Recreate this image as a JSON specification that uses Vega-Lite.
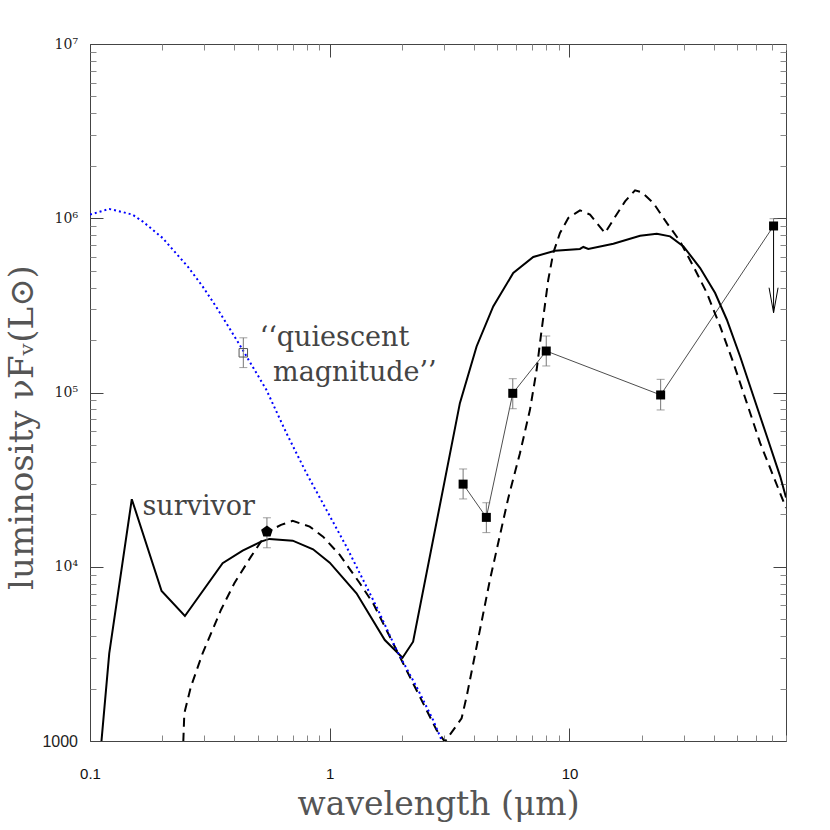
{
  "$schema": "https://vega.github.io/schema/vega-lite/v6.json",
  "width": 696,
  "height": 697,
  "autosize": "none",
  "padding": {"left": 90, "top": 44, "right": 44, "bottom": 89},
  "background": "white",
  "config": {"view": {"stroke": "#444", "strokeWidth": 1}},
  "datasets": {
    "solid": [
      {"wl": 0.1115, "lum": 980}, {"wl": 0.1203, "lum": 3184}, {"wl": 0.1494, "lum": 24420},
      {"wl": 0.1989, "lum": 7260}, {"wl": 0.2488, "lum": 5214}, {"wl": 0.3574, "lum": 10470},
      {"wl": 0.4331, "lum": 12375}, {"wl": 0.5168, "lum": 13935}, {"wl": 0.5602, "lum": 14450},
      {"wl": 0.7007, "lum": 14120}, {"wl": 0.852, "lum": 12600}, {"wl": 1.0, "lum": 10560},
      {"wl": 1.293, "lum": 7045}, {"wl": 1.697, "lum": 3798}, {"wl": 2.012, "lum": 3006},
      {"wl": 2.227, "lum": 3714}, {"wl": 3.021, "lum": 31520}, {"wl": 3.49, "lum": 86900},
      {"wl": 4.097, "lum": 183700}, {"wl": 4.807, "lum": 311900}, {"wl": 5.826, "lum": 485000},
      {"wl": 7.062, "lum": 599500}, {"wl": 8.7, "lum": 651500}, {"wl": 11.06, "lum": 666400},
      {"wl": 11.42, "lum": 684300}, {"wl": 11.98, "lum": 666400}, {"wl": 15.24, "lum": 714600},
      {"wl": 19.7, "lum": 794300}, {"wl": 23.13, "lum": 815700}, {"wl": 26.28, "lum": 787000},
      {"wl": 29.88, "lum": 689600}, {"wl": 35.07, "lum": 518000}, {"wl": 40.5, "lum": 372400},
      {"wl": 45.33, "lum": 261600}, {"wl": 51.5, "lum": 161000}, {"wl": 58.55, "lum": 94840},
      {"wl": 66.6, "lum": 55880}, {"wl": 75.7, "lum": 32920}, {"wl": 80, "lum": 25000}
    ],
    "dashed": [
      {"wl": 0.245, "lum": 990}, {"wl": 0.2474, "lum": 1440}, {"wl": 0.2635, "lum": 2048},
      {"wl": 0.2949, "lum": 3184}, {"wl": 0.3516, "lum": 5649}, {"wl": 0.4, "lum": 8040},
      {"wl": 0.4693, "lum": 11430}, {"wl": 0.5511, "lum": 15910}, {"wl": 0.6262, "lum": 17380},
      {"wl": 0.7007, "lum": 18330}, {"wl": 0.8251, "lum": 16995}, {"wl": 0.9376, "lum": 14890},
      {"wl": 1.101, "lum": 11690}, {"wl": 1.335, "lum": 8040}, {"wl": 1.517, "lum": 6170},
      {"wl": 1.781, "lum": 3967}, {"wl": 1.96, "lum": 3045}, {"wl": 2.227, "lum": 2142},
      {"wl": 2.534, "lum": 1505}, {"wl": 2.79, "lum": 1155}, {"wl": 3.021, "lum": 990},
      {"wl": 3.548, "lum": 1349}, {"wl": 3.722, "lum": 1794}, {"wl": 4.097, "lum": 3475},
      {"wl": 4.657, "lum": 8400}, {"wl": 5.553, "lum": 24750}, {"wl": 6.215, "lum": 44870},
      {"wl": 6.841, "lum": 79550}, {"wl": 7.295, "lum": 135000}, {"wl": 7.655, "lum": 229200},
      {"wl": 8.156, "lum": 444000}, {"wl": 8.557, "lum": 632000}, {"wl": 9.127, "lum": 823000},
      {"wl": 9.886, "lum": 1004000}, {"wl": 11.06, "lum": 1110000}, {"wl": 12.18, "lum": 1049000},
      {"wl": 12.99, "lum": 940000}, {"wl": 14.07, "lum": 823000}, {"wl": 15.24, "lum": 982000},
      {"wl": 17.05, "lum": 1250000}, {"wl": 18.77, "lum": 1447000}, {"wl": 20.02, "lum": 1409000},
      {"wl": 22.38, "lum": 1224000}, {"wl": 25.46, "lum": 940000}, {"wl": 28.93, "lum": 737000},
      {"wl": 32.88, "lum": 529000}, {"wl": 37.41, "lum": 372400}, {"wl": 42.5, "lum": 239400},
      {"wl": 48.31, "lum": 147500}, {"wl": 54.95, "lum": 86900}, {"wl": 62.44, "lum": 51210},
      {"wl": 70.96, "lum": 32920}, {"wl": 80, "lum": 21760}
    ],
    "dotted": [
      {"wl": 0.1, "lum": 1049000}, {"wl": 0.1075, "lum": 1081000}, {"wl": 0.1203, "lum": 1131000},
      {"wl": 0.1345, "lum": 1091000}, {"wl": 0.1504, "lum": 1049000}, {"wl": 0.1656, "lum": 960000},
      {"wl": 0.1824, "lum": 860000}, {"wl": 0.2008, "lum": 770600}, {"wl": 0.2247, "lum": 645400},
      {"wl": 0.2554, "lum": 529000}, {"wl": 0.2949, "lum": 406200}, {"wl": 0.3352, "lum": 311900},
      {"wl": 0.3813, "lum": 234400}, {"wl": 0.4331, "lum": 175900}, {"wl": 0.5441, "lum": 103600},
      {"wl": 0.6596, "lum": 58450}, {"wl": 0.7995, "lum": 34440}, {"wl": 0.9687, "lum": 21200},
      {"wl": 1.174, "lum": 13040}, {"wl": 1.567, "lum": 5900}, {"wl": 1.899, "lum": 3328},
      {"wl": 2.301, "lum": 2048}, {"wl": 2.7, "lum": 1318}, {"wl": 2.927, "lum": 1012}
    ],
    "phot": [
      {"wl": 3.6, "lum": 29800, "lo": 24500, "hi": 36400, "kind": "obs"},
      {"wl": 4.5, "lum": 19200, "lo": 15700, "hi": 23300, "kind": "obs"},
      {"wl": 5.8, "lum": 98900, "lo": 80700, "hi": 120000, "kind": "obs"},
      {"wl": 8.0, "lum": 173000, "lo": 142000, "hi": 211000, "kind": "obs"},
      {"wl": 24, "lum": 96800, "lo": 79400, "hi": 119000, "kind": "obs"},
      {"wl": 71, "lum": 903000, "lo": null, "hi": 994000, "kind": "obs"},
      {"wl": 0.436, "lum": 169000, "lo": 139000, "hi": 206000, "kind": "quiescent"},
      {"wl": 0.547, "lum": 15900, "lo": 12850, "hi": 19100, "kind": "survivor"}
    ],
    "limit": [
      {"wl": 71, "lum": 903000, "tip": 287000}
    ],
    "notes": [
      {"wl": 0.51, "lum": 183700, "text": "‘‘quiescent"},
      {"wl": 0.58, "lum": 115700, "text": "magnitude’’"},
      {"wl": 0.1656, "lum": 19840, "text": "survivor"}
    ]
  },
  "encoding": {
    "x": {"field": "wl", "type": "quantitative", "scale": {"type": "log", "domain": [0.1, 80], "nice": false}, "axis": null},
    "y": {"field": "lum", "type": "quantitative", "scale": {"type": "log", "domain": [1000, 10000000], "nice": false}, "axis": null}
  },
  "layer": [
    {
      "data": {"name": "solid"},
      "mark": {"type": "line", "color": "black", "strokeWidth": 2, "clip": true},
      "encoding": {
        "x": {"field": "wl", "type": "quantitative", "scale": {"type": "log", "domain": [0.1, 80], "nice": false},
          "axis": {
            "orient": "bottom", "title": "wavelength (μm)", "titleFont": "DejaVu Serif", "titleFontSize": 33,
            "titleFontWeight": "normal", "titleColor": "#555", "titleY": 73, "titleBaseline": "alphabetic",
            "labelExpr": "abs(datum.value-0.1)<0.001 ? '0.1' : abs(datum.value-1)<0.001 ? '1' : abs(datum.value-10)<0.01 ? '10' : ''",
            "labelFont": "Liberation Sans", "labelFontSize": 15, "labelColor": "#111", "labelPadding": 38,
            "labelBaseline": "top", "labelFlush": false, "labelOverlap": false, "domain": false, "grid": false,
            "tickSize": {"condition": {"test": "abs(log(datum.value)/LN10 - round(log(datum.value)/LN10)) < 0.001", "value": -13}, "value": -6},
            "tickColor": {"condition": {"test": "abs(log(datum.value)/LN10 - round(log(datum.value)/LN10)) < 0.001", "value": "#444"}, "value": "#888"}
          }},
        "y": {"field": "lum", "type": "quantitative", "scale": {"type": "log", "domain": [1000, 10000000], "nice": false},
          "axis": {
            "orient": "left", "title": "luminosity νFᵥ(L⊙)", "titleFont": "DejaVu Serif", "titleFontSize": 34,
            "titleFontWeight": "normal", "titleColor": "#555", "titleX": -58, "titleY": 383, "titleAlign": "center",
            "titleBaseline": "alphabetic", "titleAngle": 270,
            "labelExpr": "abs(datum.value-1000)<1 ? '1000' : abs(datum.value-10000)<1 ? '10⁴' : abs(datum.value-100000)<1 ? '10⁵' : abs(datum.value-1000000)<1 ? '10⁶' : abs(datum.value-10000000)<1 ? '10⁷' : ''",
            "labelFont": {"condition": {"test": "datum.value < 5000", "value": "Liberation Sans"}, "value": "DejaVu Serif"},
            "labelFontSize": {"condition": {"test": "datum.value < 5000", "value": 16}, "value": 14},
            "labelColor": "#222", "labelPadding": 25.5, "labelBaseline": "middle", "labelFlush": false,
            "labelOverlap": false, "domain": false, "grid": false,
            "tickSize": {"condition": {"test": "abs(log(datum.value)/LN10 - round(log(datum.value)/LN10)) < 0.001", "value": -13}, "value": -6},
            "tickColor": {"condition": {"test": "abs(log(datum.value)/LN10 - round(log(datum.value)/LN10)) < 0.001", "value": "#444"}, "value": "#888"}
          }}
      }
    },
    {
      "data": {"name": "dashed"},
      "mark": {"type": "line", "color": "black", "strokeWidth": 2, "strokeDash": [9, 6], "clip": true},
      "encoding": {
        "x": {"field": "wl", "type": "quantitative", "scale": {"type": "log", "domain": [0.1, 80], "nice": false},
          "axis": {
            "orient": "top", "title": null, "labels": false, "domain": false, "grid": false,
            "tickSize": {"condition": {"test": "abs(log(datum.value)/LN10 - round(log(datum.value)/LN10)) < 0.001", "value": -13}, "value": -6},
            "tickColor": {"condition": {"test": "abs(log(datum.value)/LN10 - round(log(datum.value)/LN10)) < 0.001", "value": "#444"}, "value": "#888"}
          }},
        "y": {"field": "lum", "type": "quantitative", "scale": {"type": "log", "domain": [1000, 10000000], "nice": false},
          "axis": {
            "orient": "right", "title": null, "labels": false, "domain": false, "grid": false,
            "tickSize": {"condition": {"test": "abs(log(datum.value)/LN10 - round(log(datum.value)/LN10)) < 0.001", "value": -13}, "value": -6},
            "tickColor": {"condition": {"test": "abs(log(datum.value)/LN10 - round(log(datum.value)/LN10)) < 0.001", "value": "#444"}, "value": "#888"}
          }}
      }
    },
    {
      "data": {"name": "dotted"},
      "mark": {"type": "line", "color": "#0000ff", "strokeWidth": 2, "strokeDash": [2, 3], "clip": true}
    },
    {
      "data": {"name": "phot"},
      "transform": [{"filter": "datum.kind == 'obs'"}],
      "mark": {"type": "line", "color": "black", "strokeWidth": 0.7}
    },
    {
      "data": {"name": "phot"},
      "mark": {"type": "rule", "color": "#777", "strokeWidth": 1},
      "encoding": {"y2": {"field": "hi"}}
    },
    {
      "data": {"name": "phot"},
      "transform": [{"filter": "isValid(datum.lo)"}],
      "mark": {"type": "rule", "color": "#777", "strokeWidth": 1},
      "encoding": {"y2": {"field": "lo"}}
    },
    {
      "data": {"name": "phot"},
      "mark": {"type": "tick", "orient": "horizontal", "color": "#777", "size": 8, "thickness": 1},
      "encoding": {"y": {"field": "hi", "type": "quantitative", "scale": {"type": "log", "domain": [1000, 10000000], "nice": false}, "axis": null}}
    },
    {
      "data": {"name": "phot"},
      "transform": [{"filter": "isValid(datum.lo)"}],
      "mark": {"type": "tick", "orient": "horizontal", "color": "#777", "size": 8, "thickness": 1},
      "encoding": {"y": {"field": "lo", "type": "quantitative", "scale": {"type": "log", "domain": [1000, 10000000], "nice": false}, "axis": null}}
    },
    {
      "data": {"name": "limit"},
      "mark": {"type": "rule", "color": "black", "strokeWidth": 1},
      "encoding": {"y2": {"field": "tip"}}
    },
    {
      "data": {"name": "limit"},
      "mark": {"type": "point", "shape": "M-0.72,-4L0,0L0.72,-4", "filled": false, "stroke": "black", "strokeWidth": 1, "size": 156, "opacity": 1},
      "encoding": {"y": {"field": "tip", "type": "quantitative", "scale": {"type": "log", "domain": [1000, 10000000], "nice": false}, "axis": null}}
    },
    {
      "data": {"name": "phot"},
      "transform": [{"filter": "datum.kind == 'obs'"}],
      "mark": {"type": "point", "shape": "square", "filled": true, "color": "black", "size": 81, "opacity": 1}
    },
    {
      "data": {"name": "phot"},
      "transform": [{"filter": "datum.kind == 'quiescent'"}],
      "mark": {"type": "point", "shape": "square", "filled": false, "stroke": "#555", "strokeWidth": 1, "size": 72, "opacity": 1}
    },
    {
      "data": {"name": "phot"},
      "transform": [{"filter": "datum.kind == 'survivor'"}],
      "mark": {"type": "point", "shape": "M0,-1L0.951,-0.309L0.588,0.809L-0.588,0.809L-0.951,-0.309Z", "filled": true, "color": "black", "size": 150, "opacity": 1}
    },
    {
      "data": {"name": "notes"},
      "mark": {"type": "text", "align": "left", "baseline": "alphabetic", "font": "DejaVu Serif", "fontSize": 27, "color": "#444"},
      "encoding": {"text": {"field": "text"}}
    }
  ],
  "resolve": {"axis": {"x": "independent", "y": "independent"}}
}
